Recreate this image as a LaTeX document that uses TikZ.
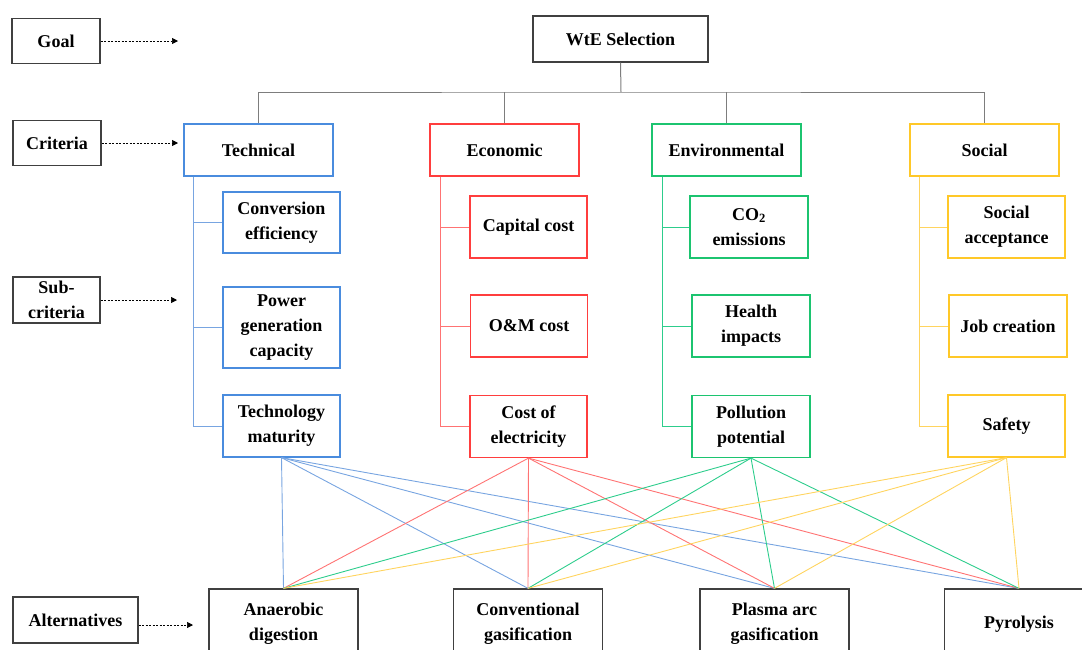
\documentclass[tikz,border=0pt]{standalone}
\usepackage{fontspec}
\setmainfont{Liberation Serif}
\usepackage{xcolor}
\usetikzlibrary{arrows.meta}
\definecolor{techblue}{RGB}{74,140,222}
\definecolor{techline}{RGB}{120,165,225}
\definecolor{econred}{RGB}{255,62,62}
\definecolor{econline}{RGB}{255,115,115}
\definecolor{envgreen}{RGB}{28,196,112}
\definecolor{envline}{RGB}{45,205,140}
\definecolor{socyellow}{RGB}{255,200,40}
\definecolor{socline}{RGB}{255,212,95}
\definecolor{treegray}{RGB}{125,125,125}

\begin{document}
\begin{tikzpicture}[x=1pt,y=-1pt,
   lbl/.style={font=\bfseries\fontsize{18}{25}\selectfont, align=center, inner sep=0pt},
   level/.style={lbl, draw=black!75, line width=1.3pt, minimum width=88pt, minimum height=45pt},
   box/.style={lbl, line width=1.2pt, minimum width=149pt, minimum height=52pt},
   subbox/.style={lbl, line width=1.2pt, minimum width=117pt, minimum height=62pt},
   alt/.style={lbl, draw=black!75, line width=1.3pt, minimum width=149pt, minimum height=70pt},
   hint/.style={dash pattern=on 2pt off 1.5pt, line width=0.7pt, -{Triangle[length=6pt,width=6pt]}}]
   \useasboundingbox (0,0) rectangle (1082,649);

   % levels on the left
   \node[level] (goal) at (56,41) {Goal};
   \node[level] (crit) at (57,143) {Criteria};
   \node[level, minimum width=87pt, minimum height=46pt] (subcrit) at (56.5,300) {Sub-\\criteria};
   \node[level, minimum width=125pt, minimum height=46pt] (alter) at (75.5,620) {Alternatives};
   \coordinate (goalend) at (178,41);
   \coordinate (critend) at (178,143);
   \coordinate (subend) at (177,300);
   \coordinate (altend) at (193,625);
   \draw[hint] (goal.east |- goalend) -- (goalend);
   \draw[hint] (crit.east |- critend) -- (critend);
   \draw[hint] (subcrit.east |- subend) -- (subend);
   \draw[hint] (alter.east |- altend) -- (altend);

   % goal and criteria
   \node[level, minimum width=175pt, minimum height=46pt] (wte) at (620.5,39) {WtE Selection};
   \node[box, draw=techblue] (tech) at (258.5,150) {Technical};
   \node[box, draw=econred] (econ) at (504.5,150) {Economic};
   \node[box, draw=envgreen] (env) at (726.5,150) {Environmental};
   \node[box, draw=socyellow] (soc) at (984.5,150) {Social};
   \coordinate (bus) at (621,92);
   \draw[treegray, line width=1pt] (wte.south) -- (bus);
   \draw[treegray, line width=1pt] (tech.north) |- (bus) -| (soc.north);
   \draw[treegray, line width=1pt] (econ.north) -- (econ.north |- bus);
   \draw[treegray, line width=1pt] (env.north) -- (env.north |- bus);

   % sub-criteria
   \node[subbox, draw=techblue, minimum height=61pt] (conv) at (281.5,222.5) {Conversion\\efficiency};
   \node[subbox, draw=techblue, minimum height=81pt] (power) at (281.5,327.5) {Power\\generation\\capacity};
   \node[subbox, draw=techblue] (matur) at (281.5,426) {Technology\\maturity};
   \node[subbox, draw=econred] (capcost) at (528.5,227) {Capital cost};
   \node[subbox, draw=econred] (omcost) at (529,326) {O\&M cost};
   \node[subbox, draw=econred] (elec) at (528.5,426.5) {Cost of\\electricity};
   \node[subbox, draw=envgreen, minimum width=118pt] (co2) at (749,227) {CO\textsubscript{2}\\emissions};
   \node[subbox, draw=envgreen, minimum width=118pt] (health) at (751,326) {Health\\impacts};
   \node[subbox, draw=envgreen, minimum width=118pt] (pollut) at (751,426.5) {Pollution\\potential};
   \node[subbox, draw=socyellow] (accept) at (1006.5,227) {Social\\acceptance};
   \node[subbox, draw=socyellow, minimum width=118pt] (job) at (1008,326) {Job creation};
   \node[subbox, draw=socyellow] (safety) at (1006.5,426) {Safety};

   \draw[techline, line width=1pt] ([xshift=10pt]tech.south west) |- (conv.west);
   \draw[techline, line width=1pt] ([xshift=10pt]tech.south west) |- (power.west);
   \draw[techline, line width=1pt] ([xshift=10pt]tech.south west) |- (matur.west);
   \draw[econline, line width=1pt] ([xshift=11pt]econ.south west) |- (capcost.west);
   \draw[econline, line width=1pt] ([xshift=11pt]econ.south west) |- (omcost.west);
   \draw[econline, line width=1pt] ([xshift=11pt]econ.south west) |- (elec.west);
   \draw[envline, line width=1pt] ([xshift=11pt]env.south west) |- (co2.west);
   \draw[envline, line width=1pt] ([xshift=11pt]env.south west) |- (health.west);
   \draw[envline, line width=1pt] ([xshift=11pt]env.south west) |- (pollut.west);
   \draw[socline, line width=1pt] ([xshift=10pt]soc.south west) |- (accept.west);
   \draw[socline, line width=1pt] ([xshift=10pt]soc.south west) |- (job.west);
   \draw[socline, line width=1pt] ([xshift=10pt]soc.south west) |- (safety.west);

   % alternatives
   \node[alt] (ad) at (283.5,624) {Anaerobic\\digestion};
   \node[alt] (cg) at (528,624) {Conventional\\gasification};
   \node[alt] (pag) at (774.5,624) {Plasma arc\\gasification};
   \node[alt] (pyro) at (1019,624) {Pyrolysis};

   \draw[techline, line width=0.9pt] (matur.south) -- (ad.north);
   \draw[techline, line width=0.9pt] (matur.south) -- (cg.north);
   \draw[techline, line width=0.9pt] (matur.south) -- (pag.north);
   \draw[techline, line width=0.9pt] (matur.south) -- (pyro.north);
   \draw[econline, line width=0.9pt] (elec.south) -- (ad.north);
   \draw[econline, line width=0.9pt] (elec.south) -- (cg.north);
   \draw[econline, line width=0.9pt] (elec.south) -- (pag.north);
   \draw[econline, line width=0.9pt] (elec.south) -- (pyro.north);
   \draw[envline, line width=0.9pt] (pollut.south) -- (ad.north);
   \draw[envline, line width=0.9pt] (pollut.south) -- (cg.north);
   \draw[envline, line width=0.9pt] (pollut.south) -- (pag.north);
   \draw[envline, line width=0.9pt] (pollut.south) -- (pyro.north);
   \draw[socline, line width=0.9pt] (safety.south) -- (ad.north);
   \draw[socline, line width=0.9pt] (safety.south) -- (cg.north);
   \draw[socline, line width=0.9pt] (safety.south) -- (pag.north);
   \draw[socline, line width=0.9pt] (safety.south) -- (pyro.north);
\end{tikzpicture}
\end{document}
